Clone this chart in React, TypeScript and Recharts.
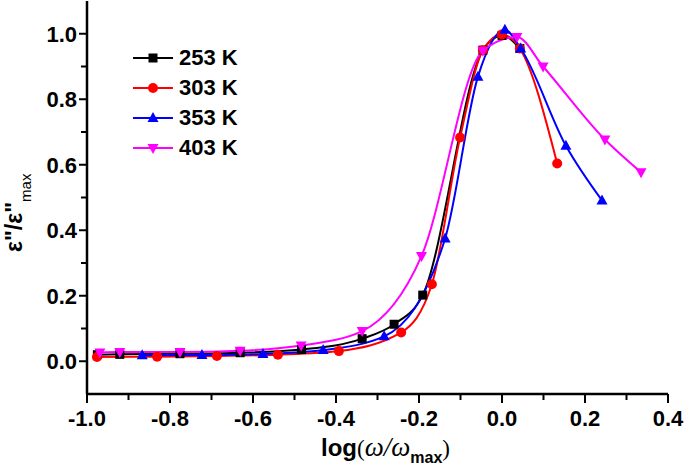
import React from 'react';
import { LineChart, Line, XAxis, YAxis } from 'recharts';

// tick values
const X_TICKS = [-1.0, -0.9, -0.8, -0.7, -0.6, -0.5, -0.4, -0.3, -0.2, -0.1, 0.0, 0.1, 0.2, 0.3, 0.4];
const Y_TICKS = [0.0, 0.1, 0.2, 0.3, 0.4, 0.5, 0.6, 0.7, 0.8, 0.9, 1.0];

// 253 K
const k253X = [-0.975, -0.921, -0.776, -0.631, -0.483, -0.337, -0.26, -0.191, -0.046, 0.0, 0.043];
const k253Y = [0.02, 0.021, 0.023, 0.026, 0.036, 0.069, 0.113, 0.202, 0.95, 0.995, 0.955];
// 303 K
const k303X = [-0.976, -0.831, -0.687, -0.54, -0.393, -0.243, -0.169, -0.101, -0.046, 0.0, 0.043, 0.133];
const k303Y = [0.013, 0.014, 0.016, 0.02, 0.031, 0.088, 0.235, 0.683, 0.95, 0.998, 0.955, 0.604];
// 353 K
const k353X = [-0.867, -0.723, -0.576, -0.431, -0.284, -0.137, -0.058, 0.007, 0.045, 0.154, 0.241];
const k353Y = [0.018, 0.019, 0.022, 0.034, 0.076, 0.375, 0.869, 1.012, 0.955, 0.658, 0.491];
// 403 K
const k403X = [-0.969, -0.921, -0.776, -0.631, -0.484, -0.337, -0.194, -0.046, 0.036, 0.099, 0.248, 0.335];
const k403Y = [0.027, 0.028, 0.028, 0.032, 0.048, 0.092, 0.321, 0.948, 0.99, 0.9, 0.677, 0.577];

const toPts = (xs: number[], ys: number[]) => xs.map((x, i) => ({ x, y: ys[i] }));

const SANS = '"Liberation Sans", Arial, sans-serif';
const SERIF = '"Liberation Serif", "Times New Roman", serif';

function Marker({ shape, cx, cy, color }: { shape: string; cx: number; cy: number; color: string }) {
  if (cx == null || cy == null) return null;
  if (shape === 'square') return <rect x={cx - 4.5} y={cy - 4.5} width={9} height={9} fill={color} />;
  if (shape === 'circle') return <circle cx={cx} cy={cy} r={5} fill={color} />;
  if (shape === 'up')
    return <polygon points={`${cx},${cy - 6} ${cx + 5.5},${cy + 4} ${cx - 5.5},${cy + 4}`} fill={color} />;
  return <polygon points={`${cx},${cy + 6} ${cx + 5.5},${cy - 4} ${cx - 5.5},${cy - 4}`} fill={color} />;
}

const series = [
  { name: '253 K', color: '#000000', shape: 'square', data: toPts(k253X, k253Y) },
  { name: '303 K', color: '#ff0000', shape: 'circle', data: toPts(k303X, k303Y) },
  { name: '353 K', color: '#0000ff', shape: 'up', data: toPts(k353X, k353Y) },
  { name: '403 K', color: '#ff00ff', shape: 'down', data: toPts(k403X, k403Y) },
];

const isMajor = (v: number) => Math.abs(Math.round(v * 10)) % 2 === 0;

function XTick(props: any) {
  const { x, y, payload } = props;
  const v = payload.value;
  const major = isMajor(v);
  return (
    <g>
      <line x1={x} y1={y} x2={x} y2={y + (major ? 9 : 6)} stroke="#000" strokeWidth={2} />
      {major && (
        <text x={x} y={y + 32} textAnchor="middle" fontFamily={SANS} fontWeight="bold" fontSize={22} fill="#000">
          {v.toFixed(1)}
        </text>
      )}
    </g>
  );
}

function YTick(props: any) {
  const { x, y, payload } = props;
  const v = payload.value;
  const major = isMajor(v);
  return (
    <g>
      <line x1={x} y1={y} x2={x - (major ? 8 : 6)} y2={y} stroke="#000" strokeWidth={2} />
      {major && (
        <text x={x - 10} y={y + 8} textAnchor="end" fontFamily={SANS} fontWeight="bold" fontSize={22} fill="#000">
          {v.toFixed(1)}
        </text>
      )}
    </g>
  );
}

function LegendBox() {
  return (
    <div style={{ fontFamily: SANS, fontWeight: 'bold', fontSize: 22, lineHeight: '30px' }}>
      {series.map((s) => (
        <div key={s.name} style={{ display: 'flex', alignItems: 'center', height: 30 }}>
          <svg width={46} height={20}>
            <line x1={0} y1={10} x2={40} y2={10} stroke={s.color} strokeWidth={2} />
            <Marker shape={s.shape} cx={20} cy={10} color={s.color} />
          </svg>
          <span>{s.name}</span>
        </div>
      ))}
    </div>
  );
}

const frame = { stroke: '#000', strokeWidth: 2.5 };

export default function App() {
  return (
    <div style={{ position: 'absolute', left: 0, top: 0, width: 685, height: 470, background: '#fff' }}>
      <LineChart width={685} height={470} margin={{ top: 1, right: 17, left: 0, bottom: 0 }}>
        <XAxis
          type="number"
          dataKey="x"
          domain={[-1, 0.4]}
          ticks={X_TICKS}
          interval={0}
          allowDataOverflow
          axisLine={frame}
          tickLine={false}
          tickSize={0}
          tickMargin={0}
          height={76}
          tick={<XTick />}
        />
        <XAxis xAxisId="top" orientation="top" type="number" domain={[-1, 0.4]} height={0} tick={false} tickLine={false} axisLine={frame} />
        <YAxis
          type="number"
          domain={[-0.1, 1.1]}
          ticks={Y_TICKS}
          interval={0}
          allowDataOverflow
          axisLine={frame}
          tickLine={false}
          tickSize={0}
          tickMargin={0}
          width={87}
          tick={<YTick />}
        />
        <YAxis yAxisId="right" orientation="right" type="number" domain={[-0.1, 1.1]} width={0} tick={false} tickLine={false} axisLine={frame} />
        {series.map((s) => (
          <Line
            key={s.name}
            data={s.data}
            dataKey="y"
            name={s.name}
            type="monotone"
            stroke={s.color}
            strokeWidth={2}
            isAnimationActive={false}
            dot={(p: any) => <Marker key={`${s.name}-${p.index}`} shape={s.shape} cx={p.cx} cy={p.cy} color={s.color} />}
            activeDot={false}
          />
        ))}
      </LineChart>
      <div style={{ position: 'absolute', left: 133, top: 43 }}>
        <LegendBox />
      </div>
      <svg width={685} height={470} style={{ position: 'absolute', left: 0, top: 0, pointerEvents: 'none' }}>
        <text transform="translate(22,252) rotate(-90)" fill="#000">
          <tspan fontFamily={SANS} fontWeight="bold" fontSize={23}>ε"/ε"</tspan>
          <tspan fontFamily={SANS} fontSize={15} dy={9}>max</tspan>
        </text>
        <text x={321} y={456} fill="#000">
          <tspan fontFamily={SANS} fontWeight="bold" fontSize={24}>log</tspan>
          <tspan fontFamily={SERIF} fontSize={23}>(</tspan>
          <tspan fontFamily={SERIF} fontStyle="italic" fontSize={27}>ω/ω</tspan>
          <tspan fontFamily={SANS} fontWeight="bold" fontSize={16} dy={7}>max</tspan>
          <tspan fontFamily={SERIF} fontSize={23} dy={-7}>)</tspan>
        </text>
      </svg>
    </div>
  );
}
